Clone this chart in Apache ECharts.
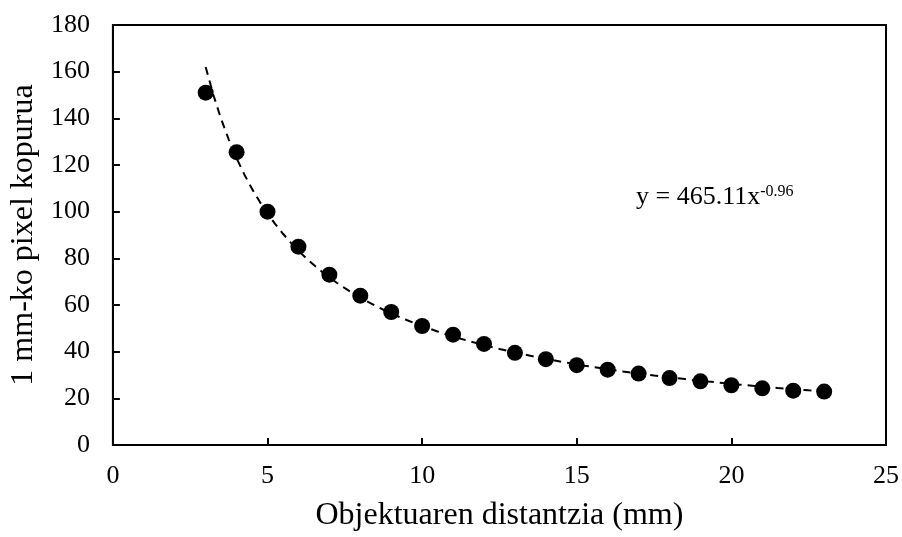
<!DOCTYPE html>
<html><head><meta charset="utf-8">
<script src="https://cdn.jsdelivr.net/npm/echarts@6/dist/echarts.min.js"></script>
<style>html,body{margin:0;padding:0;background:#fff}#c{width:902px;height:537px}</style>
</head><body><div id="c"></div>
<script>
const distances = [3,4,5,6,7,8,9,10,11,12,13,14,15,16,17,18,19,20,21,22,23];
const pixelCounts = [151,125.5,100,85,73,64,57,51,47.3,43.3,39.5,36.8,34.2,32.3,30.6,28.7,27.3,25.6,24.3,23.3,22.9];
const xTicks = [0,5,10,15,20,25];
const yTicks = [0,20,40,60,80,100,120,140,160,180];
const fitA = 465.11, fitB = -0.96; // power trendline equation printed on the chart
const trendX = [];
for (let x = 3; x <= 23.0001; x += 0.25) trendX.push(+x.toFixed(2));
const trend = trendX.map(x => [x, fitA * Math.pow(x, fitB)]);

const FONT = '"Liberation Serif", "Times New Roman", serif';
const chart = echarts.init(document.getElementById('c'));
chart.setOption({
  animation: false,
  backgroundColor: '#fff',
  grid: {left: 111, right: 14, top: 25, bottom: 88, show: true, borderColor: '#000', borderWidth: 2, backgroundColor: 'transparent'},
  xAxis: {
    type: 'value', min: 0, max: 25, interval: 5,
    name: 'Objektuaren distantzia (mm)', nameLocation: 'middle', nameGap: 55,
    nameTextStyle: {fontFamily: FONT, fontSize: 32, color: '#000'},
    axisLine: {show: true, onZero: false, lineStyle: {color: '#000', width: 2}},
    axisTick: {show: true, inside: true, length: 7, lineStyle: {color: '#000', width: 2}},
    axisLabel: {fontFamily: FONT, fontSize: 26, color: '#000', margin: 18, formatter: v => xTicks.includes(v) ? String(v) : ''},
    splitLine: {show: false}
  },
  yAxis: {
    type: 'value', min: 0, max: 180, interval: 20,
    name: '1 mm-ko pixel kopurua', nameLocation: 'middle', nameGap: 72,
    nameTextStyle: {fontFamily: FONT, fontSize: 32, color: '#000'},
    axisLine: {show: true, lineStyle: {color: '#000', width: 2}},
    axisTick: {show: true, inside: true, length: 7, lineStyle: {color: '#000', width: 2}},
    axisLabel: {fontFamily: FONT, fontSize: 26, color: '#000', margin: 23, formatter: v => yTicks.includes(v) ? String(v) : ''},
    splitLine: {show: false}
  },
  series: [
    {type: 'line', data: trend, showSymbol: false, symbol: 'none', smooth: false,
     lineStyle: {color: '#000', width: 2, type: [8, 6]}, z: 2},
    {type: 'scatter', data: distances.map((d, i) => [d, pixelCounts[i]]),
     symbol: 'circle', symbolSize: 16, itemStyle: {color: '#000', opacity: 1}, z: 3}
  ],
  graphic: [{
    type: 'text', left: 636, top: 184,
    style: {
      rich: {
        a: {fontFamily: FONT, fontSize: 26, fill: '#000', verticalAlign: 'bottom'},
        b: {fontFamily: FONT, fontSize: 16, fill: '#000', verticalAlign: 'top'}
      },
      text: '{a|y = 465.11x}{b|-0.96}'
    }
  }]
});
</script></body></html>
